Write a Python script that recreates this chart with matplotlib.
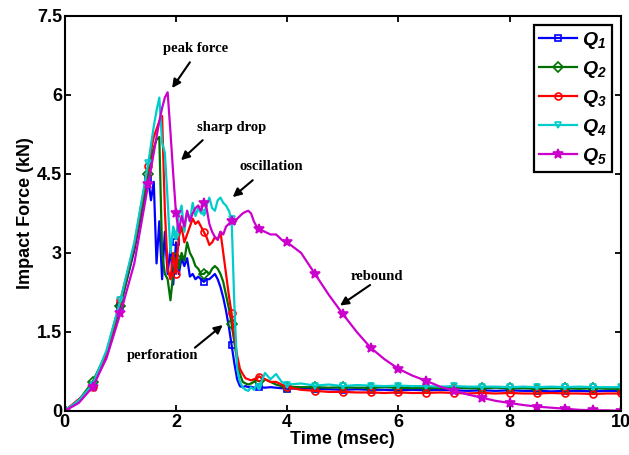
import matplotlib
matplotlib.use("Agg")
import matplotlib.pyplot as plt
import numpy as np

plt.rcParams["font.family"] = ["Liberation Sans", "DejaVu Sans"]
plt.rcParams["mathtext.fontset"] = "custom"
plt.rcParams["mathtext.it"] = "Liberation Sans:italic:bold"
plt.rcParams["mathtext.rm"] = "Liberation Sans:italic:bold"

# --- sampling grid (msec) ---
t_rise = [0, 0.25, 0.5, 0.75, 1.0, 1.25, 1.5]
t_mid = [1.55, 1.6, 1.65, 1.7, 1.75, 1.8, 1.85, 1.9, 1.95, 2.0,
         2.05, 2.1, 2.15, 2.2, 2.25, 2.3, 2.35, 2.4, 2.45, 2.5,
         2.55, 2.6, 2.65, 2.7, 2.75, 2.8, 2.85, 2.9, 2.95, 3.0,
         3.05, 3.1, 3.15, 3.2, 3.25, 3.3, 3.35, 3.4, 3.45, 3.5]
t_tail = [3.6, 3.7, 3.8, 3.9, 4.0, 4.25, 4.5, 4.75, 5.0, 5.25, 5.5, 5.75,
          6.0, 6.25, 6.5, 6.75, 7.0, 7.25, 7.5, 7.75, 8.0, 8.25, 8.5, 8.75,
          9.0, 9.25, 9.5, 9.75, 10.0]
time = t_rise + t_mid + t_tail

# --- impact force (kN) ---
q1 = [0, 0.2, 0.5, 1.05, 2.0, 3.05, 4.4,
      4.0, 4.35, 2.8, 3.6, 2.5, 3.4, 2.6, 3.1, 2.4, 3.2,
      2.6, 2.9, 2.75, 2.9, 2.55, 2.6, 2.5, 2.55, 2.5, 2.45,
      2.5, 2.5, 2.55, 2.6, 2.5, 2.35, 2.15, 1.9, 1.6, 1.25,
      0.9, 0.6, 0.47, 0.45, 0.47, 0.45, 0.46, 0.44, 0.45, 0.45,
      0.44, 0.45, 0.44, 0.43, 0.42, 0.43, 0.42, 0.41, 0.4, 0.41, 0.4, 0.4,
      0.39, 0.4, 0.39, 0.4, 0.39, 0.38, 0.39, 0.38, 0.39, 0.38, 0.38, 0.37,
      0.38, 0.38, 0.37, 0.38, 0.38]
q2 = [0, 0.2, 0.55, 1.1, 2.0, 3.1, 4.5,
      4.8, 5.0, 5.15, 5.2, 3.0, 2.6, 2.5, 2.1, 2.6, 2.9,
      2.7, 3.0, 2.85, 3.2, 3.0, 2.9, 2.75, 2.7, 2.6, 2.6,
      2.65, 2.6, 2.7, 2.75, 2.7, 2.6, 2.45, 2.2, 1.95, 1.65,
      1.3, 0.95, 0.7, 0.55, 0.52, 0.5, 0.52, 0.55, 0.58, 0.56,
      0.6, 0.55, 0.5, 0.47, 0.46, 0.45, 0.45, 0.44, 0.45, 0.44, 0.44, 0.45,
      0.44, 0.43, 0.44, 0.43, 0.44, 0.43, 0.43, 0.44, 0.43, 0.43, 0.42, 0.43,
      0.43, 0.42, 0.43, 0.42, 0.42]
q3 = [0, 0.22, 0.45, 1.1, 2.1, 3.15, 4.65,
      4.95, 5.2, 5.35, 5.5, 5.6, 3.8, 2.7, 2.5, 3.0, 2.6,
      3.3, 3.5, 3.2, 3.35, 3.5, 3.65, 3.55, 3.6, 3.5, 3.4,
      3.3, 3.15, 3.2, 3.3, 3.25, 3.4, 3.0, 2.6, 2.2, 1.85,
      1.4, 1.05, 0.8, 0.7, 0.62, 0.6, 0.58, 0.6, 0.62, 0.65,
      0.6, 0.55, 0.55, 0.5, 0.45, 0.4, 0.38, 0.36, 0.36, 0.35, 0.35, 0.34,
      0.35, 0.34, 0.34, 0.35, 0.34, 0.33, 0.34, 0.33, 0.34, 0.33, 0.33, 0.34,
      0.33, 0.33, 0.32, 0.33, 0.33]
q4 = [0, 0.2, 0.5, 1.15, 2.1, 3.2, 4.7,
      5.05, 5.4, 5.7, 5.95, 5.1, 4.9, 4.0, 3.0, 3.5, 3.3,
      3.7, 3.9, 3.4, 3.8, 3.6, 3.95, 3.7, 3.85, 3.75, 3.75,
      3.9, 4.05, 3.85, 3.8, 4.0, 4.05, 3.95, 3.9, 3.8, 3.65,
      2.0, 0.8, 0.55, 0.45, 0.4, 0.38, 0.45, 0.4, 0.5, 0.45,
      0.72, 0.6, 0.7, 0.55, 0.5, 0.52, 0.48, 0.5, 0.47, 0.49, 0.48, 0.47,
      0.48, 0.47, 0.47, 0.46, 0.47, 0.46, 0.46, 0.46, 0.45, 0.46, 0.45, 0.46,
      0.45, 0.46, 0.45, 0.45, 0.45]
q5 = [0, 0.15, 0.45, 1.0, 1.85, 2.8, 4.3,
      4.6, 4.9, 5.2, 5.5, 5.75, 5.95, 6.05, 5.3, 4.5, 3.75,
      3.4, 3.7, 3.5, 3.8, 3.6, 3.75, 3.85, 3.9, 3.8, 3.95,
      3.85, 3.55, 3.4, 3.3, 3.25, 3.4, 3.35, 3.5, 3.55, 3.6,
      3.55, 3.65, 3.7, 3.75, 3.78, 3.8, 3.75, 3.6, 3.5, 3.45,
      3.4, 3.35, 3.35, 3.25, 3.2, 3.0, 2.6, 2.2, 1.84, 1.5, 1.2, 0.98,
      0.8, 0.67, 0.57, 0.46, 0.38, 0.31, 0.25, 0.19, 0.15, 0.11, 0.08, 0.06,
      0.04, 0.02, 0.01, 0.01, 0.0]

labels = ["$Q_1$", "$Q_2$", "$Q_3$", "$Q_4$", "$Q_5$"]
colors = ["#0000ff", "#007000", "#ff0000", "#00cccc", "#cc00cc"]
markers = ["s", "D", "o", "v", "*"]

# markers every 0.5 msec, like the original
mark_idx = [i for i, t in enumerate(time) if abs(t * 2 - round(t * 2)) < 1e-9]

fig = plt.figure(figsize=(6.29, 4.55), dpi=100)
ax = fig.add_axes([0.103, 0.097, 0.884, 0.868])

for y, lab, c, m in zip([q1, q2, q3, q4, q5], labels, colors, markers):
    ms = 7 if m == "*" else 5
    ax.plot(time, y, color=c, lw=1.6, label=lab, marker=m, markevery=mark_idx,
            ms=ms, mfc="none" if m != "*" else c, mec=c, mew=1.2)

ax.set_xlim(0, 10)
ax.set_ylim(0, 7.5)
ax.set_xticks([0, 2, 4, 6, 8, 10])
ax.set_yticks([0, 1.5, 3, 4.5, 6, 7.5])
ax.set_yticklabels(["0", "1.5", "3", "4.5", "6", "7.5"])
ax.tick_params(direction="in", top=True, right=True, length=4, width=1.3,
               labelsize=13, pad=2)
for lbl in ax.get_xticklabels() + ax.get_yticklabels():
    lbl.set_fontweight("bold")
for s in ax.spines.values():
    s.set_linewidth(1.5)

ax.set_xlabel("Time (msec)", fontsize=13, fontweight="bold", labelpad=0)
ax.set_ylabel("Impact Force (kN)", fontsize=13, fontweight="bold", labelpad=2)

leg = ax.legend(loc="upper right", fontsize=14, labelspacing=0.42,
                handlelength=2.0, handletextpad=0.25, borderpad=0.25,
                fancybox=False, framealpha=1, borderaxespad=0.45)
leg.get_frame().set_edgecolor("black")
leg.get_frame().set_linewidth(1.6)

# --- annotations ---
notes = [("peak force", (2.35, 6.89), (2.25, 6.62), (1.93, 6.13)),
         ("sharp drop", (3.0, 5.39), (2.48, 5.14), (2.09, 4.76)),
         ("oscillation", (3.72, 4.65), (3.38, 4.38), (3.02, 4.06)),
         ("perforation", (1.76, 1.06), (2.34, 1.2), (2.84, 1.63)),
         ("rebound", (5.61, 2.56), (5.49, 2.39), (4.95, 2.0))]
for txt, pos, tail, head in notes:
    ax.text(pos[0], pos[1], txt, ha="center", va="center", fontsize=10.5,
            fontweight="bold", family="Liberation Serif")
    ax.annotate("", xy=head, xytext=tail,
                arrowprops=dict(arrowstyle="-|>,head_length=0.5,head_width=0.25",
                                color="black", lw=1.5, shrinkA=0, shrinkB=0))

fig.savefig("out.png", dpi=100, facecolor="white")
